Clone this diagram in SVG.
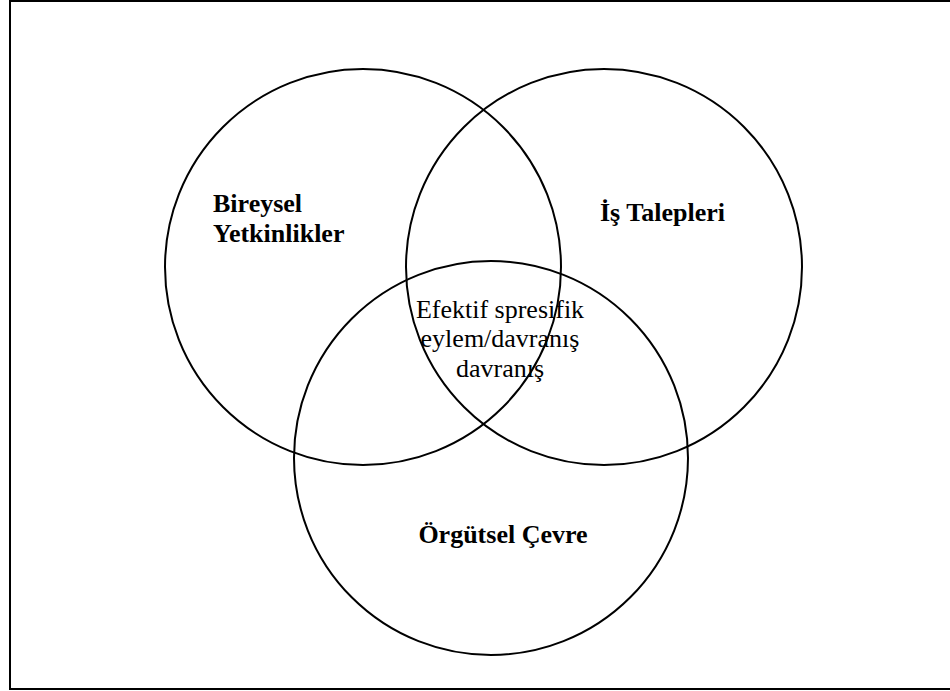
<svg xmlns="http://www.w3.org/2000/svg" width="950" height="691" viewBox="0 0 950 691">
<style>
.c{fill:none;stroke:#000;stroke-width:2}
.b{font-family:"Liberation Serif","Times New Roman",serif;font-size:26px;font-weight:bold;fill:#000}
.r{font-family:"Liberation Serif","Times New Roman",serif;font-size:26px;fill:#000}
</style>
<rect x="0" y="0" width="950" height="691" fill="#fff"/>
<rect x="10" y="1" width="950" height="688" fill="none" stroke="#000" stroke-width="2"/>
<g id="connectors"></g>
<g id="bireysel">
<circle class="c" cx="363" cy="267" r="198"/>
<text class="b" x="213" y="212">Bireysel</text>
<text class="b" x="213" y="242">Yetkinlikler</text>
</g>
<g id="is-talepleri">
<circle class="c" cx="604" cy="267" r="198"/>
<text class="b" x="600" y="221">İş Talepleri</text>
</g>
<g id="orgutsel">
<circle class="c" cx="491" cy="458" r="197"/>
<text class="b" x="503" y="543" text-anchor="middle">Örgütsel Çevre</text>
</g>
<g id="merkez">
<text class="r" x="500" y="318" text-anchor="middle">Efektif spresifik</text>
<text class="r" x="500" y="347" text-anchor="middle">eylem/davranış</text>
<text class="r" x="500" y="377" text-anchor="middle">davranış</text>
</g>
</svg>
